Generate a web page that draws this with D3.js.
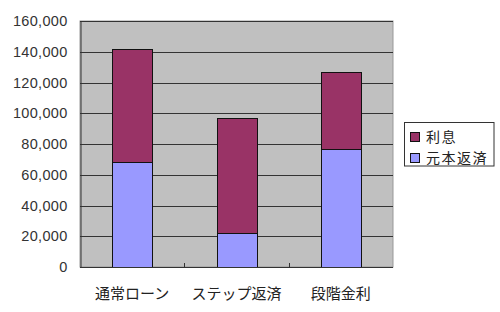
<!DOCTYPE html>
<html><head><meta charset="utf-8">
<script src="https://cdn.jsdelivr.net/npm/d3@7"></script>
<style>body{margin:0;background:#fff}svg{display:block}</style>
</head><body><svg id="c" width="500" height="312"></svg>
<script>
const categories = ["通常ローン", "ステップ返済", "段階金利"];
const principal = [68000, 22000, 77000];
const interest = [74000, 75000, 50000];
const seriesNames = ["元本返済", "利息"];
const yTicks = [0, 20000, 40000, 60000, 80000, 100000, 120000, 140000, 160000];

const svg = d3.select("#c");
const m = {l: 80, r: 393, t: 21, b: 267};
const x = d3.scaleBand().domain(categories).range([m.l, m.r]).paddingInner(0.62).paddingOuter(0.31);
const y = d3.scaleLinear().domain([0, 160000]).range([m.b, m.t]);
const colors = {"元本返済": "#9999FF", "利息": "#993366"};
const font = "'Liberation Sans', Arial, 'Noto Sans CJK JP', sans-serif";
const cjk = "'Noto Sans CJK JP', sans-serif";

svg.append("rect").attr("x", m.l).attr("y", m.t).attr("width", m.r - m.l).attr("height", m.b - m.t)
  .attr("fill", "#C0C0C0").attr("stroke", "#999").attr("stroke-width", 1);

svg.append("g").selectAll("line").data(yTicks.slice(1)).join("line")
  .attr("x1", m.l).attr("x2", m.r).attr("y1", d => Math.round(y(d)) + 0.5).attr("y2", d => Math.round(y(d)) + 0.5)
  .attr("stroke", "#333").attr("stroke-width", 1);

const data = categories.map((c, i) => ({cat: c, "元本返済": principal[i], "利息": interest[i]}));
const stack = d3.stack().keys(seriesNames)(data);
svg.append("g").selectAll("g").data(stack).join("g")
  .attr("fill", d => colors[d.key])
  .selectAll("rect").data(d => d).join("rect")
  .attr("x", d => Math.round(x(d.data.cat)) + 0.5)
  .attr("width", Math.round(x.bandwidth()))
  .attr("y", d => Math.round(y(d[1])) + 0.5)
  .attr("height", d => Math.round(y(d[0])) - Math.round(y(d[1])))
  .attr("stroke", "#111").attr("stroke-width", 1);

// axes
const yAxis = d3.axisLeft(y).tickValues(yTicks).tickSize(0).tickPadding(13).tickFormat(d3.format(","));
const gy = svg.append("g").attr("transform", `translate(${m.l + 0.5},0)`).call(yAxis);
gy.select(".domain").attr("stroke", "#333");
gy.selectAll("text").attr("font-family", font).attr("font-size", 14.5).attr("fill", "#333").attr("letter-spacing", "0.3px");

svg.append("line").attr("x1", m.l).attr("x2", m.r).attr("y1", m.b + 0.5).attr("y2", m.b + 0.5).attr("stroke", "#333");
[1, 2].forEach(k => {
  const xx = Math.round(m.l + k * (m.r - m.l) / 3) + 0.5;
  svg.append("line").attr("x1", xx).attr("x2", xx).attr("y1", m.b - 4).attr("y2", m.b).attr("stroke", "#333");
});

svg.append("g").selectAll("text").data(categories).join("text")
  .attr("x", d => x(d) + x.bandwidth() / 2).attr("y", 299)
  .attr("text-anchor", "middle").attr("font-family", cjk)
  .attr("font-size", 15).attr("fill", "#222").text(d => d);

// legend
const lg = svg.append("g");
lg.append("rect").attr("x", 404.5).attr("y", 122.5).attr("width", 89.5).attr("height", 43.5)
  .attr("fill", "#fff").attr("stroke", "#333");
const legendItems = ["利息", "元本返済"];
legendItems.forEach((k, i) => {
  const yy = 132.5 + i * 21;
  lg.append("rect").attr("x", 410.5).attr("y", yy).attr("width", 9).attr("height", 9)
    .attr("fill", colors[k]).attr("stroke", "#111");
  lg.append("text").attr("x", 426).attr("y", yy + 9).attr("font-family", cjk)
    .attr("font-size", 14).attr("letter-spacing", "1.5px").attr("fill", "#222").text(k);
});
</script></body></html>
